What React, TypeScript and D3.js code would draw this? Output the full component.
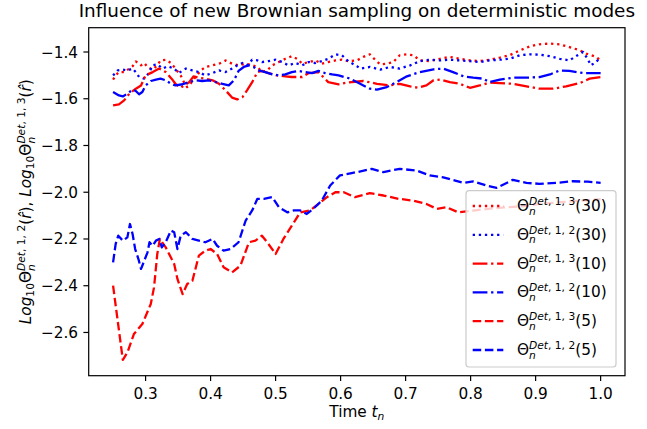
import * as d3 from 'd3'

type Pt = [number, number]

// time t_n, log10 value
const red30: Pt[] = [
  [0.250, -1.518], [0.254, -1.500], [0.259, -1.486], [0.267, -1.486], [0.275, -1.471], [0.280, -1.461],
  [0.285, -1.440], [0.293, -1.457], [0.298, -1.447], [0.303, -1.464], [0.311, -1.475], [0.318, -1.457],
  [0.323, -1.436], [0.331, -1.433], [0.339, -1.447], [0.346, -1.471], [0.354, -1.500], [0.359, -1.529],
  [0.364, -1.550], [0.369, -1.536], [0.377, -1.507], [0.385, -1.479], [0.392, -1.464], [0.403, -1.457],
  [0.413, -1.450], [0.423, -1.436], [0.433, -1.450], [0.443, -1.457], [0.454, -1.450], [0.464, -1.457],
  [0.472, -1.464], [0.479, -1.486], [0.487, -1.479], [0.495, -1.457], [0.505, -1.443], [0.515, -1.429],
  [0.525, -1.418], [0.533, -1.429], [0.541, -1.450], [0.551, -1.443], [0.561, -1.436], [0.571, -1.450],
  [0.581, -1.443], [0.592, -1.436], [0.602, -1.433], [0.612, -1.440], [0.625, -1.436], [0.635, -1.421],
  [0.645, -1.410], [0.653, -1.433], [0.661, -1.453], [0.671, -1.450], [0.681, -1.443], [0.691, -1.414],
  [0.702, -1.410], [0.712, -1.414], [0.722, -1.436], [0.737, -1.439], [0.753, -1.429], [0.768, -1.421],
  [0.783, -1.429], [0.799, -1.436], [0.814, -1.439], [0.829, -1.433], [0.845, -1.424], [0.860, -1.414],
  [0.876, -1.393], [0.891, -1.376], [0.906, -1.367], [0.922, -1.364], [0.937, -1.367], [0.952, -1.379],
  [0.968, -1.393], [0.978, -1.407], [0.993, -1.421], [1.000, -1.436],
]

const blue30: Pt[] = [
  [0.250, -1.500], [0.257, -1.479], [0.265, -1.475], [0.272, -1.479], [0.280, -1.471], [0.285, -1.486],
  [0.290, -1.507], [0.298, -1.514], [0.305, -1.490], [0.311, -1.457], [0.318, -1.453], [0.326, -1.471],
  [0.334, -1.461], [0.344, -1.471], [0.351, -1.490], [0.362, -1.471], [0.372, -1.479], [0.382, -1.486],
  [0.392, -1.500], [0.403, -1.490], [0.413, -1.479], [0.423, -1.486], [0.433, -1.471], [0.441, -1.457],
  [0.449, -1.447], [0.456, -1.457], [0.464, -1.433], [0.472, -1.436], [0.479, -1.443], [0.489, -1.439],
  [0.500, -1.433], [0.510, -1.443], [0.520, -1.457], [0.530, -1.447], [0.541, -1.457], [0.551, -1.443],
  [0.561, -1.447], [0.571, -1.439], [0.581, -1.429], [0.592, -1.410], [0.602, -1.414], [0.612, -1.440],
  [0.625, -1.460], [0.630, -1.471], [0.645, -1.464], [0.661, -1.475], [0.676, -1.464], [0.691, -1.471],
  [0.707, -1.457], [0.722, -1.439], [0.737, -1.433], [0.753, -1.436], [0.768, -1.433], [0.783, -1.436],
  [0.799, -1.439], [0.814, -1.443], [0.829, -1.436], [0.845, -1.433], [0.860, -1.429], [0.876, -1.414],
  [0.891, -1.410], [0.906, -1.411], [0.922, -1.418], [0.937, -1.429], [0.952, -1.436], [0.962, -1.418],
  [0.973, -1.400], [0.980, -1.429], [0.985, -1.457], [0.993, -1.443], [1.000, -1.421],
]

const red10: Pt[] = [
  [0.250, -1.628], [0.259, -1.624], [0.267, -1.607], [0.275, -1.578], [0.285, -1.557], [0.293, -1.543],
  [0.300, -1.500], [0.311, -1.486], [0.321, -1.471], [0.331, -1.486], [0.340, -1.514], [0.346, -1.536],
  [0.354, -1.553], [0.359, -1.543], [0.367, -1.529], [0.374, -1.504], [0.382, -1.510], [0.392, -1.514],
  [0.403, -1.521], [0.413, -1.536], [0.423, -1.564], [0.433, -1.595], [0.441, -1.603], [0.449, -1.593],
  [0.456, -1.564], [0.464, -1.529], [0.472, -1.486], [0.479, -1.481], [0.489, -1.490], [0.502, -1.500],
  [0.515, -1.504], [0.525, -1.507], [0.541, -1.507], [0.551, -1.490], [0.566, -1.486], [0.581, -1.529],
  [0.597, -1.538], [0.612, -1.530], [0.635, -1.524], [0.656, -1.536], [0.676, -1.543], [0.691, -1.536],
  [0.707, -1.547], [0.719, -1.553], [0.732, -1.543], [0.743, -1.521], [0.753, -1.518], [0.768, -1.529],
  [0.783, -1.536], [0.799, -1.553], [0.814, -1.543], [0.829, -1.531], [0.845, -1.533], [0.865, -1.536],
  [0.886, -1.547], [0.906, -1.557], [0.927, -1.557], [0.947, -1.547], [0.968, -1.533], [0.983, -1.514],
  [1.000, -1.507],
]

const blue10: Pt[] = [
  [0.250, -1.571], [0.259, -1.586], [0.265, -1.590], [0.272, -1.578], [0.280, -1.561], [0.285, -1.567],
  [0.290, -1.581], [0.295, -1.571], [0.300, -1.543], [0.308, -1.524], [0.316, -1.518], [0.323, -1.514],
  [0.331, -1.521], [0.339, -1.536], [0.346, -1.543], [0.357, -1.538], [0.367, -1.529], [0.377, -1.521],
  [0.387, -1.524], [0.397, -1.521], [0.408, -1.529], [0.418, -1.536], [0.428, -1.543], [0.436, -1.521],
  [0.443, -1.481], [0.451, -1.464], [0.459, -1.457], [0.466, -1.464], [0.474, -1.479], [0.484, -1.486],
  [0.495, -1.496], [0.505, -1.500], [0.515, -1.496], [0.525, -1.486], [0.535, -1.481], [0.546, -1.486],
  [0.556, -1.490], [0.566, -1.481], [0.576, -1.490], [0.587, -1.496], [0.597, -1.500], [0.615, -1.514],
  [0.630, -1.536], [0.645, -1.557], [0.656, -1.561], [0.671, -1.550], [0.686, -1.529], [0.702, -1.504],
  [0.722, -1.486], [0.743, -1.474], [0.758, -1.471], [0.773, -1.486], [0.789, -1.504], [0.804, -1.510],
  [0.819, -1.514], [0.829, -1.529], [0.845, -1.518], [0.865, -1.510], [0.886, -1.510], [0.906, -1.507],
  [0.922, -1.496], [0.937, -1.479], [0.952, -1.481], [0.973, -1.490], [1.000, -1.490],
]

const red5: Pt[] = [
  [0.250, -2.400], [0.265, -2.717], [0.272, -2.686], [0.282, -2.607], [0.295, -2.564], [0.308, -2.478],
  [0.313, -2.407], [0.318, -2.264], [0.322, -2.200], [0.331, -2.236], [0.344, -2.307], [0.349, -2.371],
  [0.357, -2.436], [0.364, -2.393], [0.372, -2.379], [0.382, -2.271], [0.392, -2.250], [0.400, -2.243],
  [0.410, -2.264], [0.420, -2.321], [0.433, -2.343], [0.446, -2.314], [0.459, -2.214], [0.469, -2.207],
  [0.479, -2.186], [0.487, -2.214], [0.500, -2.264], [0.512, -2.200], [0.525, -2.143], [0.538, -2.086],
  [0.553, -2.078], [0.566, -2.050], [0.579, -2.021], [0.592, -2.000], [0.605, -2.000], [0.622, -2.021],
  [0.645, -2.004], [0.666, -2.014], [0.689, -2.028], [0.712, -2.036], [0.732, -2.050], [0.748, -2.071],
  [0.763, -2.064], [0.781, -2.086], [0.800, -2.080], [0.830, -2.070], [0.855, -2.064], [0.880, -2.060],
  [0.906, -2.050], [0.950, -2.040], [1.000, -2.030],
]

const blue5: Pt[] = [
  [0.250, -2.300], [0.254, -2.221], [0.258, -2.186], [0.265, -2.207], [0.272, -2.193], [0.276, -2.136],
  [0.280, -2.179], [0.284, -2.243], [0.289, -2.286], [0.293, -2.328], [0.298, -2.293], [0.303, -2.257],
  [0.306, -2.214], [0.311, -2.229], [0.316, -2.207], [0.321, -2.200], [0.325, -2.236], [0.331, -2.214],
  [0.339, -2.164], [0.344, -2.171], [0.349, -2.243], [0.354, -2.186], [0.362, -2.171], [0.372, -2.200],
  [0.382, -2.207], [0.392, -2.214], [0.403, -2.200], [0.410, -2.229], [0.420, -2.250], [0.431, -2.243],
  [0.443, -2.214], [0.454, -2.121], [0.464, -2.078], [0.472, -2.028], [0.482, -2.028], [0.495, -2.021],
  [0.505, -2.064], [0.518, -2.086], [0.528, -2.078], [0.538, -2.078], [0.548, -2.093], [0.558, -2.071],
  [0.571, -2.036], [0.584, -1.971], [0.599, -1.928], [0.617, -1.918], [0.625, -1.914], [0.648, -1.900],
  [0.666, -1.914], [0.691, -1.900], [0.717, -1.907], [0.737, -1.928], [0.758, -1.936], [0.789, -1.960],
  [0.804, -1.954], [0.824, -1.971], [0.840, -1.981], [0.865, -1.947], [0.886, -1.960], [0.906, -1.964],
  [0.932, -1.960], [0.957, -1.953], [0.980, -1.955], [1.000, -1.960],
]

const xTicks = [0.3, 0.4, 0.5, 0.6, 0.7, 0.8, 0.9, 1.0]
const yTicks = [-2.6, -2.4, -2.2, -2.0, -1.8, -1.6, -1.4]

const W = 647
const H = 429
const left = 88.7, right = 625, top = 27.7, bottom = 375.7
const FS = 15.3
const SUB = 10.7
const LW = 2.3
const font = 'DejaVu Sans'

const DOTTED = `${LW},${1.65 * LW}`
const DASHDOT = `${6.4 * LW},${1.6 * LW},${LW},${1.6 * LW}`
const DASHED = `${3.7 * LW},${1.6 * LW}`

const series = [
  { data: red30, color: '#ff0000', dash: DOTTED, sup: '1, 3', n: '30' },
  { data: blue30, color: '#0000ff', dash: DOTTED, sup: '1, 2', n: '30' },
  { data: red10, color: '#ff0000', dash: DASHDOT, sup: '1, 3', n: '10' },
  { data: blue10, color: '#0000ff', dash: DASHDOT, sup: '1, 2', n: '10' },
  { data: red5, color: '#ff0000', dash: DASHED, sup: '1, 3', n: '5' },
  { data: blue5, color: '#0000ff', dash: DASHED, sup: '1, 2', n: '5' },
]

function Theta({ sup }: { sup: string }) {
  // Θ with stacked italic n below and "Det, 1, x" above
  return (
    <>
      <tspan>Θ</tspan>
      <tspan fontSize={SUB} fontStyle="italic" dy={3.5}>n</tspan>
      <tspan fontSize={SUB} dx={-6.8} dy={-9.7}>
        <tspan fontStyle="italic">Det</tspan>, {sup}
      </tspan>
    </>
  )
}

export default function App() {
  const x = d3.scaleLinear().domain([0.2125, 1.0375]).range([left, right])
  const y = d3.scaleLinear().domain([-2.785, -1.296]).range([bottom, top])
  const line = d3.line<Pt>().x(d => x(d[0])).y(d => y(d[1]))
  const fmt = (v: number) => d3.format('.1f')(v).replace('-', '\u2212')

  const legX = 466, legY = 190.7, legW = 150, legH = 176.3
  const rowY = (i: number) => 206 + i * 28.8

  return (
    <svg width={W} height={H} style={{ position: 'absolute', left: 0, top: 0, background: '#fff' }}
      fontFamily={font}>
      <defs>
        <clipPath id="plot">
          <rect x={left} y={top} width={right - left} height={bottom - top} />
        </clipPath>
      </defs>
      <rect width={W} height={H} fill="#fff" />

      <g clipPath="url(#plot)">
        {series.map((s, i) => (
          <path key={i} d={line(s.data) ?? ''} fill="none" stroke={s.color}
            strokeWidth={LW} strokeDasharray={s.dash} strokeLinejoin="round" />
        ))}
      </g>

      <rect x={left} y={top} width={right - left} height={bottom - top} fill="none" stroke="#000" strokeWidth={1.2} />

      {xTicks.map(t => (
        <g key={t}>
          <line x1={x(t)} x2={x(t)} y1={bottom} y2={bottom + 5.3} stroke="#000" strokeWidth={1.2} />
          <text x={x(t)} y={399} textAnchor="middle" fontSize={FS}>{fmt(t)}</text>
        </g>
      ))}
      {yTicks.map(t => (
        <g key={t}>
          <line x1={left - 5.3} x2={left} y1={y(t)} y2={y(t)} stroke="#000" strokeWidth={1.2} />
          <text x={left - 10.6} y={y(t)} dy="0.36em" textAnchor="end" fontSize={FS}>{fmt(t)}</text>
        </g>
      ))}

      <text x={(left + right) / 2} y={17} textAnchor="middle" fontSize={18.4}>
        Influence of new Brownian sampling on deterministic modes
      </text>

      <text x={(left + right) / 2} y={416.8} textAnchor="middle" fontSize={FS}>
        Time <tspan fontStyle="italic">t</tspan>
        <tspan fontStyle="italic" fontSize={SUB} dy={2.8}>n</tspan>
      </text>

      <text transform={`translate(31,${(top + bottom) / 2}) rotate(-90)`} textAnchor="middle" fontSize={FS}>
        <tspan fontStyle="italic">Log</tspan>
        <tspan fontSize={SUB} dy={3}>10</tspan>
        <tspan dy={-3}>Θ</tspan>
        <tspan fontSize={SUB} fontStyle="italic" dy={3.5}>n</tspan>
        <tspan fontSize={SUB} dx={-6.8} dy={-9.7}><tspan fontStyle="italic">Det</tspan>, 1, 2</tspan>
        <tspan dy={6.2}>(</tspan><tspan fontStyle="italic">r̂</tspan><tspan>), </tspan>
        <tspan fontStyle="italic">Log</tspan>
        <tspan fontSize={SUB} dy={3}>10</tspan>
        <tspan dy={-3}>Θ</tspan>
        <tspan fontSize={SUB} fontStyle="italic" dy={3.5}>n</tspan>
        <tspan fontSize={SUB} dx={-6.8} dy={-9.7}><tspan fontStyle="italic">Det</tspan>, 1, 3</tspan>
        <tspan dy={6.2}>(</tspan><tspan fontStyle="italic">r̂</tspan><tspan>)</tspan>
      </text>

      <rect x={legX} y={legY} width={legW} height={legH} rx={3} fill="#fff" fillOpacity={0.8}
        stroke="#cccccc" strokeWidth={1.2} />
      {series.map((s, i) => (
        <g key={i}>
          <line x1={472.7} x2={503.3} y1={rowY(i)} y2={rowY(i)} stroke={s.color} strokeWidth={LW}
            strokeDasharray={s.dash} />
          <text x={517} y={rowY(i) + 5} fontSize={FS}>
            <Theta sup={s.sup} />
            <tspan dy={6.2}>({s.n})</tspan>
          </text>
        </g>
      ))}
    </svg>
  )
}
